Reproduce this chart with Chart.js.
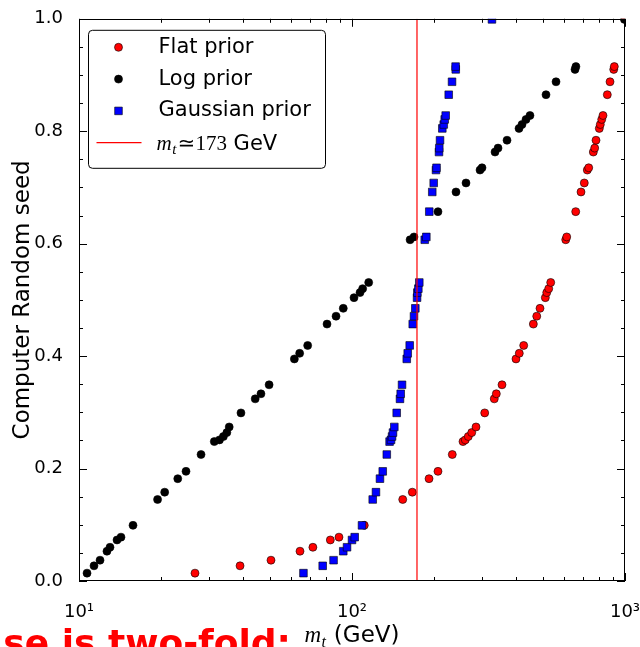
<!DOCTYPE html>
<html>
<head>
<meta charset="utf-8">
<title>Random seed vs top mass</title>
<script src="https://cdn.jsdelivr.net/npm/chart.js@4.4.0/dist/chart.umd.min.js"></script>
<style>
html, body { margin: 0; padding: 0; background: #fff; overflow: hidden; }
canvas { display: block; }
</style>
</head>
<body>
<canvas id="seedChart" width="640" height="647"></canvas>
<script>
// random seeds, shared by the three priors
var seeds = [0.014, 0.027, 0.037, 0.053, 0.060, 0.073, 0.078, 0.099, 0.145, 0.158,
             0.182, 0.195, 0.225, 0.248, 0.251, 0.257, 0.264, 0.274, 0.299, 0.324,
             0.333, 0.349, 0.395, 0.405, 0.419, 0.457, 0.471, 0.485, 0.504, 0.513,
             0.520, 0.531, 0.607, 0.612, 0.657, 0.692, 0.708, 0.731, 0.735, 0.763,
             0.770, 0.784, 0.805, 0.812, 0.821, 0.828, 0.865, 0.888, 0.910, 0.915,
             0.999];

// m_t (GeV) drawn for each seed
var flatMass = [26.6, 38.9, 50.5, 64.5, 71.9, 83.3, 89.6, 110.9, 153.4, 166.3,
                191.5, 206.5, 233.0, 255.0, 260.0, 266.7, 274.5, 284.6, 306.3, 332.0,
                337.8, 354.4, 398.7, 410.0, 425.5, 461.6, 475.0, 488.3, 510.7, 516.8,
                525.5, 534.4, 606.6, 611.7, 659.9, 690.0, 709.4, 727.6, 736.3, 765.5,
                774.5, 783.1, 805.2, 812.0, 821.7, 830.6, 861.4, 881.3, 909.2, 913.8,
                999];
var logMass = [10.7, 11.35, 11.94, 12.66, 12.99, 13.78, 14.25, 15.77, 19.4, 20.6,
               23.0, 24.66, 27.99, 31.3, 32.7, 33.8, 34.8, 35.5, 39.2, 44.2,
               46.4, 49.7, 61.5, 64.3, 68.8, 81.0, 87.4, 92.9, 101.7, 107.0,
               109.4, 115.1, 163.2, 168.7, 206.5, 240.4, 261.6, 294.4, 299.4, 334.1,
               342.7, 369.7, 409.0, 419.5, 433.9, 448.7, 513.6, 558.9, 656, 661,
               995];
var gaussMass = [66.4, 78.1, 85.6, 92.9, 95.9, 100, 102.3, 108.8, 119.1, 122.4,
                 126.6, 129.6, 134.1, 137.3, 139.0, 140.2, 141.3, 142.9, 145.8, 149.9,
                 150.8, 152.5, 158.7, 160.0, 162.7, 166.9, 168.7, 170.6, 173.1, 173.5,
                 175.0, 176.4, 184.7, 187.2, 191.9, 196.8, 199.2, 203.1, 204.0, 208.3,
                 208.8, 210.1, 214.2, 216.8, 218.6, 220.4, 226.1, 232.5, 239.9, 239.6,
                 325.6];

var topMass = 173;

var xTicks = [10, 100, 1000];
var xTickLabels = ['10\u00b9', '10\u00b2', '10\u00b3'];
var yTicks = [0, 0.2, 0.4, 0.6, 0.8, 1.0];
var yTickLabels = ['0.0', '0.2', '0.4', '0.6', '0.8', '1.0'];

var SANS = '"DejaVu Sans", sans-serif';
var SERIF = '"Liberation Serif", "DejaVu Serif", serif';

Chart.defaults.font.family = SANS;
Chart.defaults.color = '#000';

function pairs(xs) {
    return xs.map(function (x, i) { return { x: x, y: seeds[i] }; });
}

var series = [
    { label: 'Flat prior', data: pairs(flatMass), pointStyle: 'circle', pointRadius: 4,
      backgroundColor: '#ff0000', borderColor: '#000', pointBorderWidth: 0.6, order: 3 },
    { label: 'Log prior', data: pairs(logMass), pointStyle: 'circle', pointRadius: 4,
      backgroundColor: '#000', borderColor: '#000', pointBorderWidth: 0.6, order: 2 },
    { label: 'Gaussian prior', data: pairs(gaussMass), pointStyle: 'rect', pointRadius: 5.4,
      backgroundColor: '#0000ff', borderColor: '#000', pointBorderWidth: 0.6, order: 1 },
    { label: 'mt', data: [{ x: topMass, y: 0 }, { x: topMass, y: 1 }], showLine: true,
      borderColor: '#ff0000', borderWidth: 1.2, pointRadius: 0, order: 0 }
];
series.forEach(function (d) { d.clip = 0; d.pointHoverRadius = d.pointRadius; });

// inward ticks on all four sides plus the frame, matplotlib style
var frameTicks = {
    id: 'frameTicks',
    afterDatasetsDraw: function (chart) {
        var ctx = chart.ctx, a = chart.chartArea;
        var xs = chart.scales.x, ys = chart.scales.y;
        var xMinor = [], yMinor = [];
        [10, 100].forEach(function (d) {
            for (var k = 2; k <= 9; k++) xMinor.push(d * k);
        });
        for (var k = 1; k < 20; k++) { if (k % 4 !== 0) yMinor.push(k * 0.05); }

        ctx.save();
        ctx.strokeStyle = '#000';
        ctx.lineWidth = 1;
        ctx.beginPath();
        function xt(v, len) {
            var p = Math.round(xs.getPixelForValue(v)) + 0.5;
            ctx.moveTo(p, a.bottom); ctx.lineTo(p, a.bottom - len);
            ctx.moveTo(p, a.top); ctx.lineTo(p, a.top + len);
        }
        function yt(v, len) {
            var p = Math.round(ys.getPixelForValue(v)) + 0.5;
            ctx.moveTo(a.left, p); ctx.lineTo(a.left + len, p);
            ctx.moveTo(a.right, p); ctx.lineTo(a.right - len, p);
        }
        xTicks.forEach(function (v) { xt(v, 8); });
        xMinor.forEach(function (v) { xt(v, 4); });
        yTicks.forEach(function (v) { yt(v, 8); });
        yMinor.forEach(function (v) { yt(v, 4); });
        ctx.stroke();
        ctx.strokeRect(Math.round(a.left) + 0.5, Math.round(a.top) + 0.5,
                       Math.round(a.right - a.left) - 1, Math.round(a.bottom - a.top) - 1);
        ctx.restore();
    }
};

function drawMassLabel(ctx, x, y, size, tail) {
    // italic m with subscript t, then the rest
    ctx.font = 'italic ' + size + 'px ' + SERIF;
    ctx.fillText('m', x, y);
    x += ctx.measureText('m').width;
    ctx.font = 'italic ' + Math.round(size * 0.7) + 'px ' + SERIF;
    ctx.fillText('t', x + 0.5, y + size * 0.2);
    x += ctx.measureText('t').width + 1;
    tail.forEach(function (part) {
        ctx.font = part.font;
        ctx.fillText(part.text, x + (part.gap || 0), y);
        x += ctx.measureText(part.text).width + (part.gap || 0);
    });
    return x;
}

function massLabelWidth(ctx, size, tail) {
    ctx.save();
    ctx.font = 'italic ' + size + 'px ' + SERIF;
    var w = ctx.measureText('m').width;
    ctx.font = 'italic ' + Math.round(size * 0.7) + 'px ' + SERIF;
    w += ctx.measureText('t').width + 1;
    tail.forEach(function (part) {
        ctx.font = part.font;
        w += ctx.measureText(part.text).width + (part.gap || 0);
    });
    ctx.restore();
    return w;
}

var legendAndTitles = {
    id: 'legendAndTitles',
    afterDraw: function (chart) {
        var ctx = chart.ctx, a = chart.chartArea;
        ctx.save();

        // legend box
        var bx = a.left + 9.5, by = a.top + 11.5, bw = 237, bh = 138, r = 4;
        ctx.beginPath();
        ctx.moveTo(bx + r, by);
        ctx.arcTo(bx + bw, by, bx + bw, by + bh, r);
        ctx.arcTo(bx + bw, by + bh, bx, by + bh, r);
        ctx.arcTo(bx, by + bh, bx, by, r);
        ctx.arcTo(bx, by, bx + bw, by, r);
        ctx.closePath();
        ctx.fillStyle = '#fff';
        ctx.fill();
        ctx.strokeStyle = '#000';
        ctx.lineWidth = 1;
        ctx.stroke();

        var mx = bx + 30, tx = bx + 70, row0 = by + 17, step = 31.8;
        ctx.textBaseline = 'middle';
        ctx.textAlign = 'left';
        for (var i = 0; i < 3; i++) {
            var d = series[i], y = row0 + i * step;
            ctx.fillStyle = d.backgroundColor;
            ctx.strokeStyle = d.borderColor;
            ctx.lineWidth = d.pointBorderWidth;
            Chart.helpers.drawPoint(ctx, { pointStyle: d.pointStyle, radius: d.pointRadius,
                                           borderWidth: d.pointBorderWidth, rotation: 0 }, mx, y);
            ctx.fillStyle = '#000';
            ctx.font = '21px ' + SANS;
            ctx.fillText(d.label, tx, y);
        }
        var ly = row0 + 3 * step;
        ctx.strokeStyle = '#ff0000';
        ctx.lineWidth = 1.2;
        ctx.beginPath();
        ctx.moveTo(bx + 8, ly);
        ctx.lineTo(bx + 53, ly);
        ctx.stroke();
        ctx.fillStyle = '#000';
        ctx.textBaseline = 'alphabetic';
        drawMassLabel(ctx, tx - 2, ly + 7, 21, [
            { text: '\u2243', font: '21px ' + SANS, gap: 1 },
            { text: '173', font: '21px ' + SERIF, gap: 0 },
            { text: ' GeV', font: '21px ' + SANS, gap: 0 }
        ]);

        // x axis title
        var xTail = [{ text: ' (GeV)', font: '23px ' + SANS, gap: 0 }];
        var w = massLabelWidth(ctx, 23, xTail);
        drawMassLabel(ctx, (a.left + a.right) / 2 - w / 2, 642, 23, xTail);

        // y axis title
        ctx.save();
        ctx.translate(23, (a.top + a.bottom) / 2);
        ctx.rotate(-Math.PI / 2);
        ctx.textAlign = 'center';
        ctx.textBaseline = 'middle';
        ctx.font = '23px ' + SANS;
        ctx.fillText('Computer Random seed', 0, 0);
        ctx.restore();

        // slide caption running off the bottom edge
        ctx.fillStyle = '#ff0000';
        ctx.font = 'bold 36px ' + SANS;
        ctx.textAlign = 'right';
        ctx.textBaseline = 'alphabetic';
        ctx.fillText('se is two-fold:', 291, 655);

        ctx.restore();
    }
};

new Chart(document.getElementById('seedChart'), {
    type: 'scatter',
    data: { datasets: series },
    options: {
        responsive: false,
        animation: false,
        events: [],
        layout: { padding: { top: 16, right: 0, left: 0, bottom: 0 } },
        plugins: { legend: { display: false }, tooltip: { enabled: false } },
        scales: {
            x: {
                type: 'logarithmic',
                min: 10,
                max: 1000,
                grid: { display: false },
                border: { display: false },
                afterBuildTicks: function (s) {
                    s.ticks = xTicks.map(function (v) { return { value: v }; });
                },
                afterFit: function (s) {
                    s.height = 66;
                    s.paddingRight = 15;
                },
                ticks: {
                    autoSkip: false,
                    maxRotation: 0,
                    padding: 13,
                    font: { size: 18 },
                    color: '#000',
                    callback: function (v) { return xTickLabels[xTicks.indexOf(v)]; }
                }
            },
            y: {
                min: 0,
                max: 1,
                grid: { display: false },
                border: { display: false },
                afterBuildTicks: function (s) {
                    s.ticks = yTicks.map(function (v) { return { value: v }; });
                },
                afterFit: function (s) { s.width = 79; },
                ticks: {
                    padding: 8,
                    font: { size: 18 },
                    color: '#000',
                    callback: function (v) { return yTickLabels[yTicks.indexOf(v)]; }
                }
            }
        }
    },
    plugins: [frameTicks, legendAndTitles]
});
</script>
</body>
</html>
